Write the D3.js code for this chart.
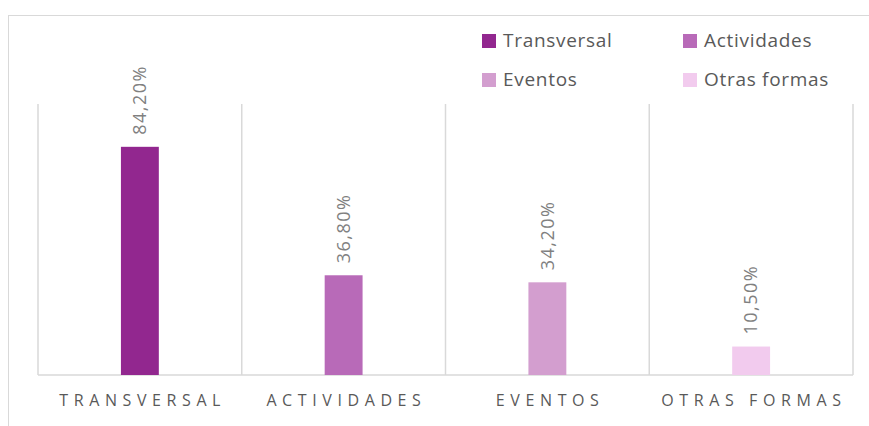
<!DOCTYPE html>
<html>
<head>
<meta charset="utf-8">
<script src="https://cdn.jsdelivr.net/npm/d3@7"></script>
<style>
  body { margin: 0; background: #fff; }
  svg { display: block; font-family: "Open Sans", sans-serif; }
</style>
</head>
<body>
<div id="chart"></div>
<script>
// data
const categories = ['TRANSVERSAL', 'ACTIVIDADES', 'EVENTOS', 'OTRAS FORMAS'];
const legendNames = ['Transversal', 'Actividades', 'Eventos', 'Otras formas'];
const values = [84.2, 36.8, 34.2, 10.5];
const colors = ['#92278f', '#b86ab8', '#d39ecf', '#f2cbee'];

const width = 869, height = 426;
const plot = { left: 38, right: 853, top: 104, bottom: 375 };

const svg = d3.select('#chart').append('svg')
  .attr('width', width)
  .attr('height', height);

// chart frame
svg.append('rect')
  .attr('x', 8.5).attr('y', 15.5)
  .attr('width', 880).attr('height', 430)
  .attr('fill', 'none')
  .attr('stroke', '#d9d9d9');

const x = d3.scaleBand().domain(categories).range([plot.left, plot.right]).padding(0);
const y = d3.scaleLinear().domain([0, 100]).range([plot.bottom, plot.top]);
const barW = x.bandwidth() * 0.186;

// vertical gridlines at category boundaries
const edges = categories.map(c => x(c)).concat([plot.right]);
svg.append('g')
  .selectAll('line')
  .data(edges)
  .join('line')
    .attr('x1', d => d).attr('x2', d => d)
    .attr('y1', plot.top).attr('y2', plot.bottom)
    .attr('stroke', '#d9d9d9')
    .attr('stroke-width', 1.5);

// baseline
svg.append('line')
  .attr('x1', plot.left).attr('x2', plot.right)
  .attr('y1', plot.bottom).attr('y2', plot.bottom)
  .attr('stroke', '#d9d9d9')
  .attr('stroke-width', 1.5);

// bars
svg.append('g')
  .selectAll('rect')
  .data(categories)
  .join('rect')
    .attr('x', c => x(c) + (x.bandwidth() - barW) / 2)
    .attr('width', barW)
    .attr('y', (c, i) => y(values[i]))
    .attr('height', (c, i) => y(0) - y(values[i]))
    .attr('fill', (c, i) => colors[i]);

// rotated value labels
const fmt = v => v.toFixed(2).replace('.', ',') + '%';
svg.append('g')
  .selectAll('text')
  .data(categories)
  .join('text')
    .attr('transform', (c, i) => `translate(${x(c) + x.bandwidth() / 2},${y(values[i]) - 12}) rotate(-90)`)
    .attr('dy', '0.35em')
    .attr('text-anchor', 'start')
    .attr('fill', '#808080')
    .style('font-size', '18px')
    .style('letter-spacing', '1.5px')
    .text((c, i) => fmt(values[i]));

// category labels with wide tracking
const spacing = 5.6;
svg.append('g')
  .selectAll('text')
  .data(categories)
  .join('text')
    .attr('x', c => x(c) + x.bandwidth() / 2)
    .attr('dx', spacing / 2)
    .attr('y', 406)
    .attr('text-anchor', 'middle')
    .attr('fill', '#595959')
    .style('font-size', '16px')
    .style('letter-spacing', spacing + 'px')
    .text(c => c);

// legend, two columns
const legendPos = [[482, 34], [683, 34], [482, 73], [683, 73]];
const legend = svg.append('g')
  .selectAll('g')
  .data(legendNames)
  .join('g')
    .attr('transform', (d, i) => `translate(${legendPos[i][0]},${legendPos[i][1]})`);
legend.append('rect')
  .attr('width', 14).attr('height', 14)
  .attr('fill', (d, i) => colors[i]);
legend.append('text')
  .attr('x', 21).attr('y', 12.5)
  .attr('fill', '#595959')
  .style('font-size', '19px')
  .style('letter-spacing', '0.7px')
  .text(d => d);
</script>
</body>
</html>
